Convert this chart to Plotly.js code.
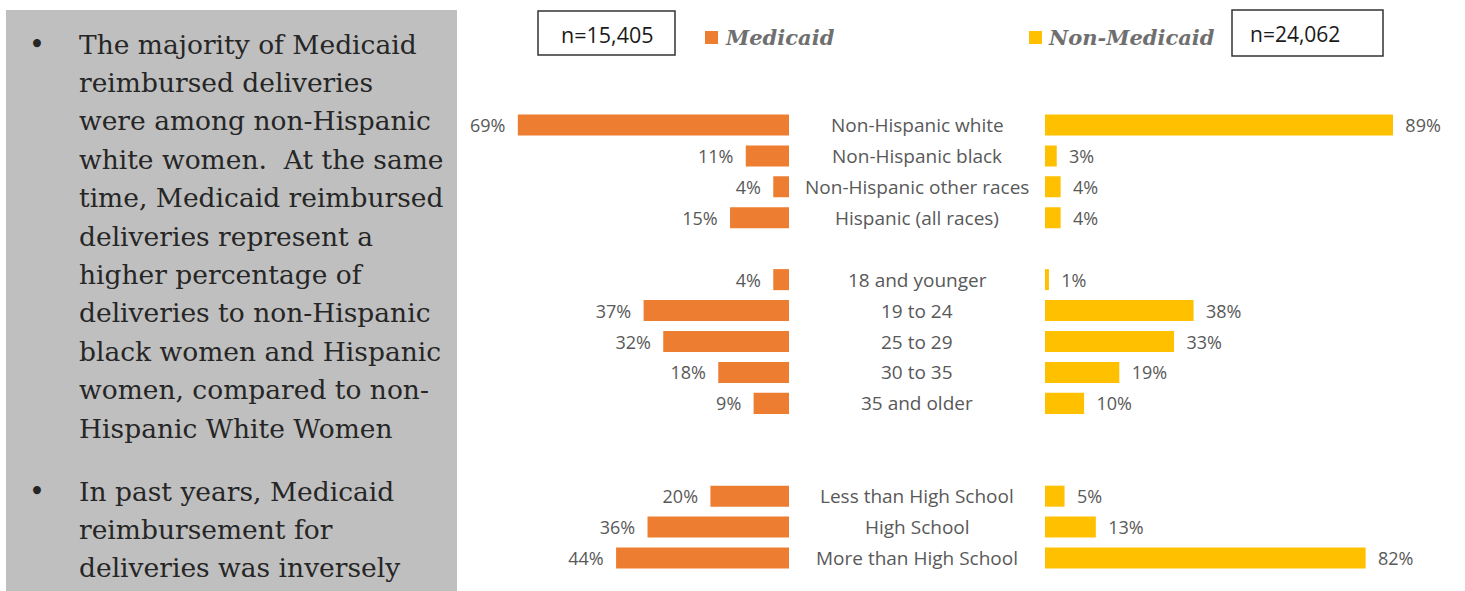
<!DOCTYPE html>
<html>
<head>
<meta charset="utf-8">
<script src="https://cdn.plot.ly/plotly-3.0.1.min.js"></script>
<style>html,body{margin:0;padding:0;background:#fff;}#chart{width:1465px;height:591px;}</style>
</head>
<body>
<div id="chart"></div>
<script>
// ---- data ----
var categories = ["Non-Hispanic white","Non-Hispanic black","Non-Hispanic other races","Hispanic (all races)",
  "18 and younger","19 to 24","25 to 29","30 to 35","35 and older",
  "Less than High School","High School","More than High School"];
var medicaid    = [69,11,4,15,4,37,32,18,9,20,36,44];
var nonMedicaid = [89,3,4,4,1,38,33,19,10,5,13,82];
var seriesNames = ["Medicaid","Non-Medicaid"];
var sampleSizes = ["n=15,405","n=24,062"];
var bulletOne = ["The majority of Medicaid","reimbursed deliveries","were among non-Hispanic",
  "white women.  At the same","time, Medicaid reimbursed","deliveries represent a",
  "higher percentage of","deliveries to non-Hispanic","black women and Hispanic",
  "women, compared to non-","Hispanic White Women"];
var bulletTwo = ["In past years, Medicaid","reimbursement for","deliveries was inversely"];

// row order on the category axis (blank rows separate the groups)
var rowOrder = categories.slice(0,4).concat([" "], categories.slice(4,9), ["  ","   "], categories.slice(9));

var W = 1465, H = 591;
function px(x){ return x / W; }
function py(y){ return 1 - y / H; }

var ORANGE = "#ED7D31", GOLD = "#FFC000", LABEL = "#595959";
var sans = "'Open Sans', Lato, sans-serif";
var serif = "'DejaVu Serif', 'Liberation Serif', serif";

var traces = [
  {type:"bar", orientation:"h", y:categories, x:medicaid, xaxis:"x", yaxis:"y",
   name:seriesNames[0], marker:{color:ORANGE},
   texttemplate:"%{x}%  ", textposition:"outside", cliponaxis:false, constraintext:"none",
   textfont:{family:sans, size:18, color:LABEL}, hoverinfo:"skip"},
  {type:"bar", orientation:"h", y:categories, x:nonMedicaid, xaxis:"x2", yaxis:"y",
   name:seriesNames[1], marker:{color:GOLD},
   texttemplate:"  %{x}%", textposition:"outside", cliponaxis:false, constraintext:"none",
   textfont:{family:sans, size:18, color:LABEL}, hoverinfo:"skip"}
];

var annotations = [];
categories.forEach(function(c){
  annotations.push({xref:"paper", yref:"y", x:px(917), y:c, text:c, showarrow:false,
    xanchor:"center", yanchor:"middle", font:{family:sans, size:19, color:LABEL}});
});
// bullet text
function addPara(lines, firstBaseline){
  lines.forEach(function(t,i){
    annotations.push({xref:"paper", yref:"paper", x:px(77), y:py(firstBaseline - 9 + i*38.4),
      text:t, showarrow:false, xanchor:"left", yanchor:"middle",
      font:{family:serif, size:26.5, color:"#262626"}});
  });
  annotations.push({xref:"paper", yref:"paper", x:px(37), y:py(firstBaseline - 9),
    text:"•", showarrow:false, xanchor:"center", yanchor:"middle",
    font:{family:serif, size:27, color:"#262626"}});
}
addPara(bulletOne, 53);
addPara(bulletTwo, 500);

// legend texts
annotations.push({xref:"paper", yref:"paper", x:px(723), y:py(37), text:"<b><i>"+seriesNames[0]+"</i></b>",
  showarrow:false, xanchor:"left", yanchor:"middle", font:{family:serif, size:21, color:"#6f6f6f"}});
annotations.push({xref:"paper", yref:"paper", x:px(1046), y:py(37), text:"<b><i>"+seriesNames[1]+"</i></b>",
  showarrow:false, xanchor:"left", yanchor:"middle", font:{family:serif, size:21, color:"#6f6f6f"}});
// sample size boxes
annotations.push({xref:"paper", yref:"paper", x:px(607), y:py(35), text:sampleSizes[0],
  showarrow:false, xanchor:"center", yanchor:"middle", font:{family:sans, size:21.5, color:"#1a1a1a"}});
annotations.push({xref:"paper", yref:"paper", x:px(1248), y:py(34), text:sampleSizes[1],
  showarrow:false, xanchor:"left", yanchor:"middle", font:{family:sans, size:21, color:"#1a1a1a"}});

var shapes = [
  {type:"rect", xref:"paper", yref:"paper", x0:px(6), x1:px(457), y0:0, y1:py(10),
   fillcolor:"#bfbfbf", line:{width:0}, layer:"below"},
  {type:"rect", xref:"paper", yref:"paper", x0:px(705), x1:px(718), y0:py(44), y1:py(31),
   fillcolor:ORANGE, line:{width:0}},
  {type:"rect", xref:"paper", yref:"paper", x0:px(1029), x1:px(1042), y0:py(44), y1:py(31),
   fillcolor:GOLD, line:{width:0}},
  {type:"rect", xref:"paper", yref:"paper", x0:px(538), x1:px(675), y0:py(55), y1:py(11),
   fillcolor:"rgba(0,0,0,0)", line:{width:1.5, color:"#333333"}},
  {type:"rect", xref:"paper", yref:"paper", x0:px(1232), x1:px(1383), y0:py(56), y1:py(10),
   fillcolor:"rgba(0,0,0,0)", line:{width:1.5, color:"#333333"}}
];

var hidden = {showgrid:false, zeroline:false, showline:false, showticklabels:false, ticks:"", fixedrange:true};
var layout = {
  width:W, height:H, margin:{l:0,r:0,t:0,b:0},
  paper_bgcolor:"#ffffff", plot_bgcolor:"rgba(0,0,0,0)",
  showlegend:false, bargap:0.32,
  xaxis: Object.assign({domain:[px(396), px(789)], range:[100,0], anchor:"y"}, hidden),
  xaxis2: Object.assign({domain:[px(1045), px(1436)], range:[0,100], anchor:"y"}, hidden),
  yaxis: Object.assign({domain:[py(573.5), py(109.5)], type:"category",
    categoryorder:"array", categoryarray:rowOrder, range:[rowOrder.length-0.5,-0.5]}, hidden),
  annotations:annotations, shapes:shapes
};

Plotly.newPlot("chart", traces, layout, {displayModeBar:false, staticPlot:true});
</script>
</body>
</html>
